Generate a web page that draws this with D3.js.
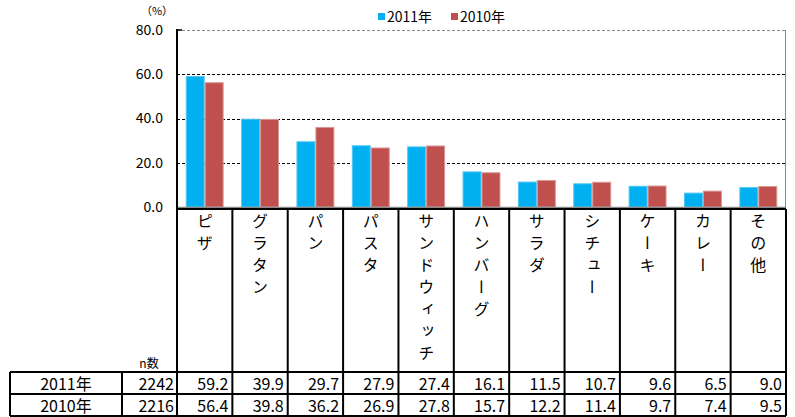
<!DOCTYPE html>
<html><head><meta charset="utf-8">
<script src="https://cdn.jsdelivr.net/npm/d3@7"></script>
<style>
html,body{margin:0;padding:0;background:#fff;}
svg{display:block;font-family:"Noto Sans CJK JP","Noto Sans",sans-serif;}
</style></head>
<body>
<svg id="chart" width="795" height="417"></svg>
<script>
const categories = ["ピザ","グラタン","パン","パスタ","サンドウィッチ","ハンバーグ","サラダ","シチュー","ケーキ","カレー","その他"];
const years = ["2011年","2010年"];
const values2011 = [59.2,39.9,29.7,27.9,27.4,16.1,11.5,10.7,9.6,6.5,9.0];
const values2010 = [56.4,39.8,36.2,26.9,27.8,15.7,12.2,11.4,9.7,7.4,9.5];
const nCounts = [2242,2216];
const yTicks = [0,20,40,60,80];
const colors = ["#00B0F0","#C0504D"];
const strokes = ["#4FC8F4","#D99694"];

const svg = d3.select("#chart");
const L = 177, R = 786, T = 30, B = 207;
const x = d3.scaleBand().domain(categories).range([L,R]).padding(0);
const x1 = d3.scaleBand().domain(years).range([0,x.bandwidth()]).paddingInner(0).paddingOuter(0.46);
const y = d3.scaleLinear().domain([0,80]).range([B,T]);
const series = [values2011, values2010];

// gridlines
svg.append("g").selectAll("line").data(yTicks.filter(d=>d>0)).join("line")
  .attr("x1",L).attr("x2",R).attr("y1",d=>Math.round(y(d))+0.5).attr("y2",d=>Math.round(y(d))+0.5)
  .attr("stroke",d=>d===80?"#888":"#000").attr("stroke-width",1).attr("stroke-dasharray","3,2");
// right border
svg.append("line").attr("x1",R-0.5).attr("x2",R-0.5).attr("y1",T).attr("y2",B).attr("stroke","#888");

// bars
const g = svg.append("g");
years.forEach((yr,si)=>{
  g.selectAll(null).data(categories).join("rect")
    .attr("x",(c)=>x(c)+x1(yr)+0.5)
    .attr("width",x1.bandwidth()-1)
    .attr("y",(c,i)=>y(series[si][i])+0.5)
    .attr("height",(c,i)=>B-y(series[si][i])-0.5)
    .attr("fill",colors[si]).attr("stroke",strokes[si]).attr("stroke-width",1);
});
// bottom axis line
svg.append("line").attr("x1",L).attr("x2",R).attr("y1",B+0.5).attr("y2",B+0.5).attr("stroke","#888").attr("stroke-width",1.5);
// left axis
const yAxis = d3.axisLeft(y).tickValues(yTicks).tickFormat(d3.format(".1f")).tickSize(0).tickPadding(14);
const ya = svg.append("g").attr("transform",`translate(${L},0)`).call(yAxis);
ya.select(".domain").remove();
ya.selectAll("text").attr("font-size",14).attr("fill","#000").attr("font-family","Noto Sans CJK JP");
svg.append("line").attr("x1",L).attr("x2",L).attr("y1",T-1).attr("y2",B+2).attr("stroke","#000").attr("stroke-width",2);
svg.append("line").attr("x1",L).attr("x2",L+5).attr("y1",T).attr("y2",T).attr("stroke","#000").attr("stroke-width",1.5);

// unit label
svg.append("text").attr("x",157).attr("y",15).attr("text-anchor","middle").attr("font-size",11).text("（%）");

// legend
const leg = svg.append("g");
const legX = [378,451];
years.forEach((yr,i)=>{
  leg.append("rect").attr("x",legX[i]).attr("y",13).attr("width",7).attr("height",7).attr("fill",colors[i]);
  leg.append("text").attr("x",legX[i]+9).attr("y",22).attr("font-size",14).text(yr.replace("年","")).append("tspan").text("年");
});

// table
const tb = svg.append("g").attr("stroke","#000").attr("stroke-width",2);
const tableTop = 209, rowTop = 372, rowMid = 394, rowBot = 416, tLeft = 10, c1 = 122;
tb.append("line").attr("x1",L).attr("x2",R).attr("y1",tableTop).attr("y2",tableTop);
[rowTop,rowMid,rowBot].forEach(yy=>tb.append("line").attr("x1",tLeft).attr("x2",R).attr("y1",yy).attr("y2",yy));
[tLeft,c1].forEach(xx=>tb.append("line").attr("x1",xx).attr("x2",xx).attr("y1",rowTop).attr("y2",rowBot));
tb.selectAll(null).data(categories.concat([null])).join("line")
  .attr("x1",(c,i)=>L+i*x.bandwidth()).attr("x2",(c,i)=>L+i*x.bandwidth())
  .attr("y1",tableTop).attr("y2",rowBot);

// category labels vertical
svg.append("g").selectAll("text").data(categories).join("text")
  .attr("x",c=>x(c)+x.bandwidth()/2).attr("y",213)
  .attr("font-size",16)
  .style("writing-mode","vertical-rl").style("letter-spacing","6px")
  .text(c=>c);

// n label
svg.append("text").attr("x",149).attr("y",368).attr("text-anchor","middle").attr("font-size",12).text("n数");

// rows
const rowsY = [390,412];
years.forEach((yr,ri)=>{
  svg.append("text").attr("x",66).attr("y",rowsY[ri]).attr("text-anchor","middle").attr("font-size",16).text(yr);
  svg.append("text").attr("x",L-3).attr("y",rowsY[ri]).attr("text-anchor","end").attr("font-size",16).text(nCounts[ri]);
  svg.append("g").selectAll("text").data(categories).join("text")
    .attr("x",c=>x(c)+x.bandwidth()-4).attr("y",rowsY[ri]).attr("text-anchor","end").attr("font-size",16)
    .text((c,i)=>d3.format(".1f")(series[ri][i]));
});
</script>
</body></html>
